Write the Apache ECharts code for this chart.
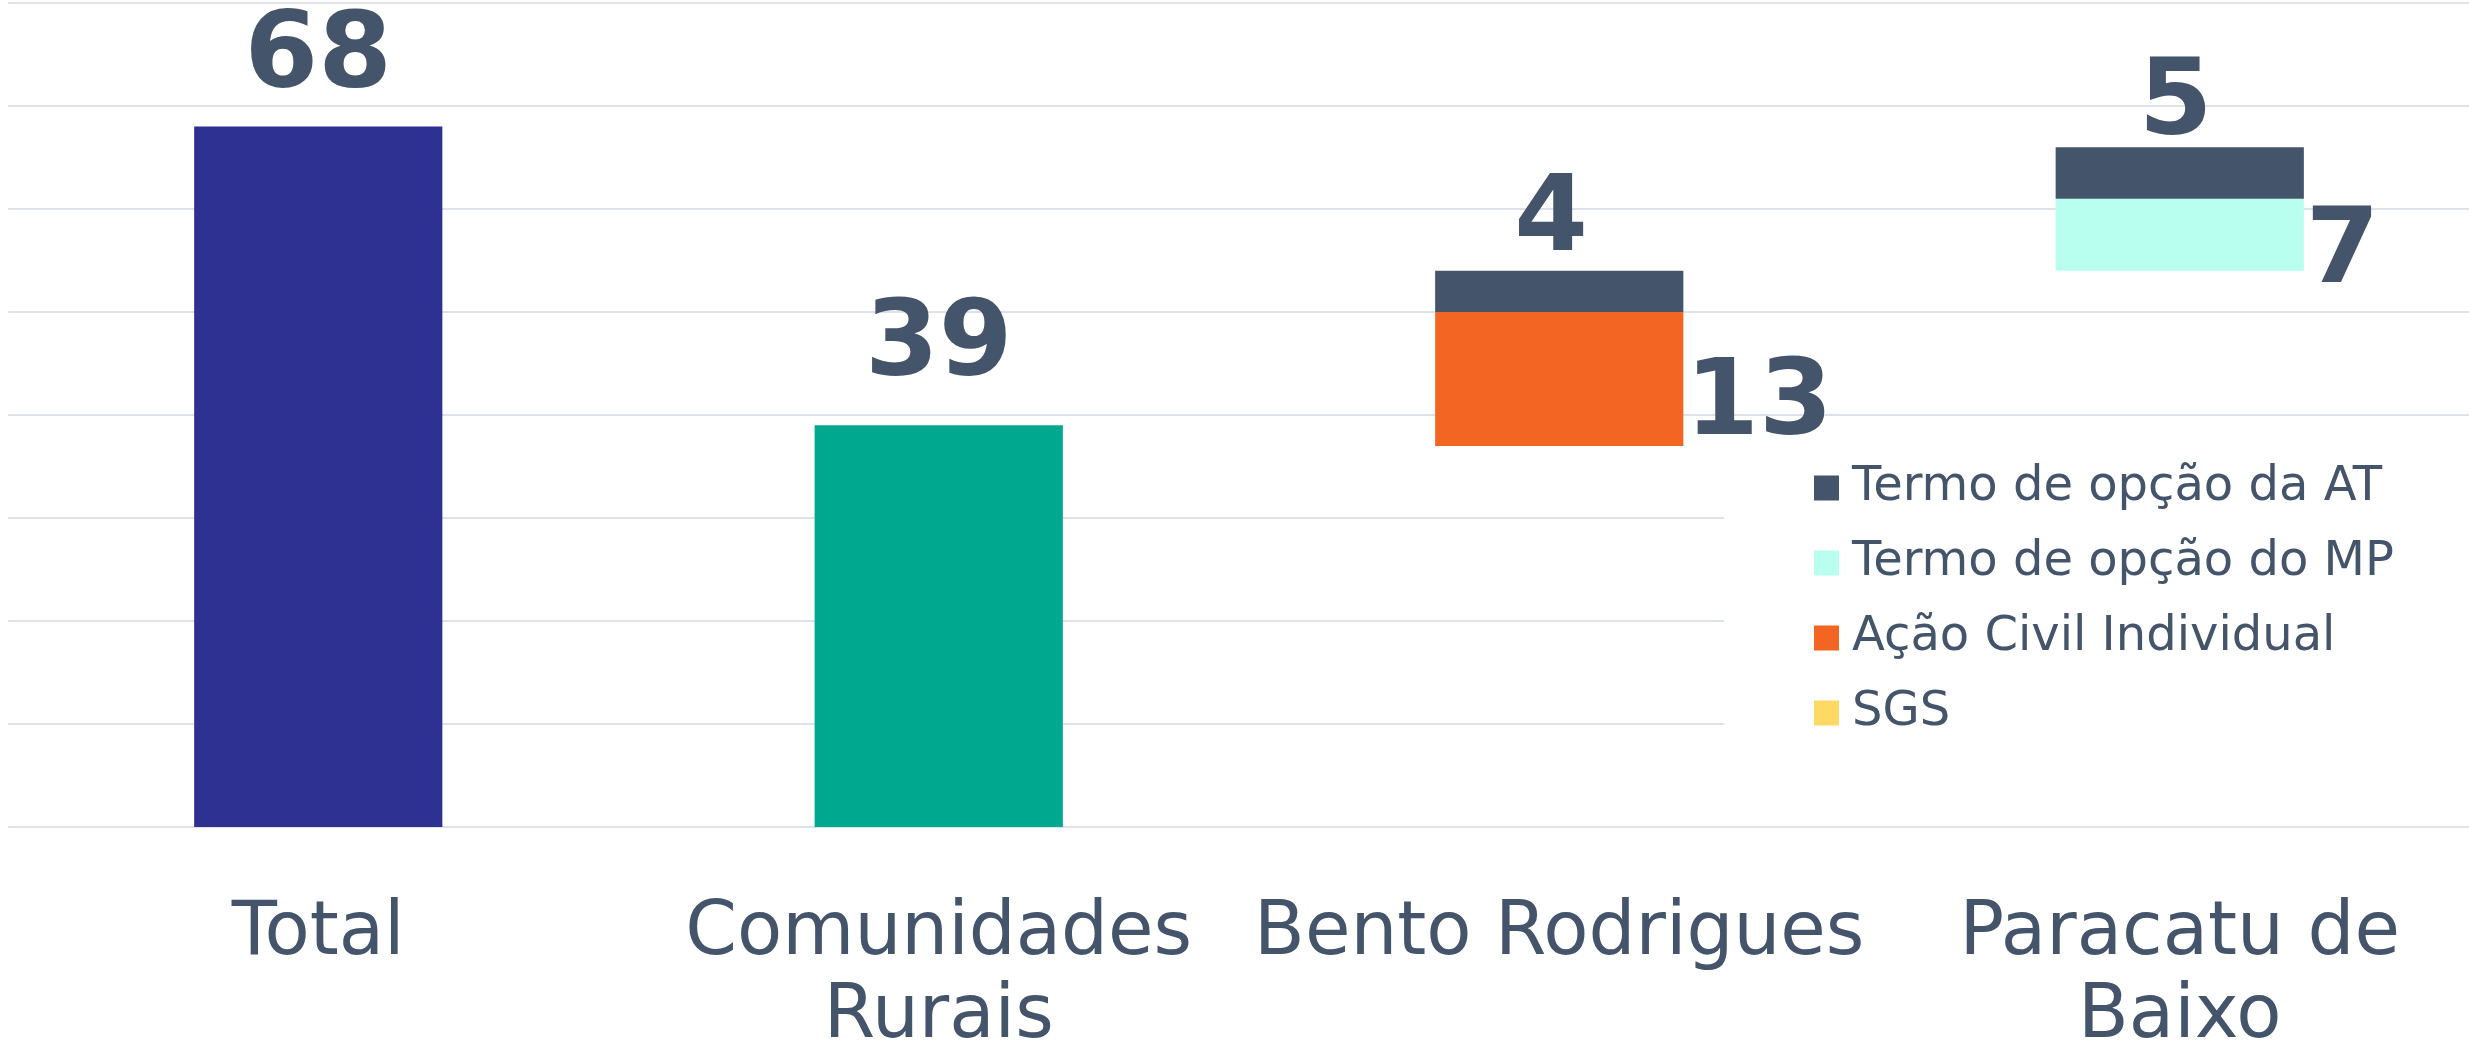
<!DOCTYPE html>
<html>
<head>
<meta charset="utf-8">
<script src="https://cdn.jsdelivr.net/npm/echarts@6/dist/echarts.min.js"></script>
<style>
  html, body { margin: 0; padding: 0; background: #fff; }
  #main { width: 2469px; height: 1052px; }
</style>
</head>
<body>
<div id="main"></div>
<script>
// categorias e valores
const categorias = ['Total', 'Comunidades\nRurais', 'Bento Rodrigues', 'Paracatu de\nBaixo']
const base = [0, 0, 37, 54]            // parte invisível (cascata)
const totais = [68, 39, '-', '-']
const sgs = ['-', '-', '-', '-']
const acaoCivil = ['-', '-', 13, '-']
const termoMP = ['-', '-', '-', 7]
const termoAT = ['-', '-', 4, 5]
const legendas = ['Termo de opção da AT', 'Termo de opção do MP', 'Ação Civil Individual', 'SGS']

const corTexto = '#44546A'
const fonte = 'DejaVu Sans, Verdana, sans-serif'

const rotuloNum = {
  show: true,
  color: corTexto,
  fontFamily: fonte,
  fontWeight: 'bold',
  fontSize: 106
}

const myChart = echarts.init(document.getElementById('main'))

myChart.setOption({
  animation: false,
  backgroundColor: '#fff',
  grid: { left: 8, top: 3, bottom: 225, width: 2482, outerBoundsMode: 'none', containLabel: false },
  xAxis: {
    type: 'category',
    data: categorias,
    axisLine: { show: false },
    axisTick: { show: false },
    axisLabel: {
      interval: 0,
      color: corTexto,
      fontFamily: fonte,
      fontSize: 74,
      lineHeight: 83,
      margin: 66
    }
  },
  yAxis: {
    type: 'value',
    min: 0,
    max: 80,
    interval: 10,
    axisLabel: { show: false },
    axisLine: { show: false },
    axisTick: { show: false },
    splitLine: { lineStyle: { color: '#DDE2EA', width: 2 } }
  },
  legend: {
    data: legendas,
    orient: 'vertical',
    left: 1724,
    top: 446,
    backgroundColor: '#fff',
    padding: [18, 200, 50, 90],
    itemWidth: 25,
    itemHeight: 25,
    itemGap: 27,
    icon: 'rect',
    textStyle: {
      color: corTexto,
      fontFamily: fonte,
      fontSize: 48,
      padding: [0, 0, 0, 8]
    }
  },
  series: [
    {
      name: 'base',
      type: 'bar',
      stack: 'w',
      barWidth: '40%',
      itemStyle: { color: 'transparent' },
      data: base
    },
    {
      name: 'Total',
      type: 'bar',
      stack: 'w',
      data: [
        { value: totais[0], itemStyle: { color: '#2E3192' }, label: { ...rotuloNum, position: 'top', distance: 0, offset: [0, -14] } },
        { value: totais[1], itemStyle: { color: '#00A88F' }, label: { ...rotuloNum, position: 'top', distance: 0, offset: [0, -25] } },
        totais[2],
        totais[3]
      ]
    },
    {
      name: 'SGS',
      type: 'bar',
      stack: 'w',
      itemStyle: { color: '#FFD966' },
      data: sgs
    },
    {
      name: 'Ação Civil Individual',
      type: 'bar',
      stack: 'w',
      itemStyle: { color: '#F26522' },
      label: { ...rotuloNum, position: 'right', distance: 2, offset: [0, 28] },
      data: acaoCivil
    },
    {
      name: 'Termo de opção do MP',
      type: 'bar',
      stack: 'w',
      itemStyle: { color: '#B8FFF0' },
      label: { ...rotuloNum, position: 'right', distance: 2, offset: [0, 20] },
      data: termoMP
    },
    {
      name: 'Termo de opção da AT',
      type: 'bar',
      stack: 'w',
      itemStyle: { color: '#44546A' },
      data: [
        termoAT[0],
        termoAT[1],
        { value: termoAT[2], label: { ...rotuloNum, position: 'top', distance: 0, offset: [-8, 5] } },
        { value: termoAT[3], label: { ...rotuloNum, position: 'top', distance: 0, offset: [-4, 12] } }
      ]
    }
  ]
})
</script>
</body>
</html>
